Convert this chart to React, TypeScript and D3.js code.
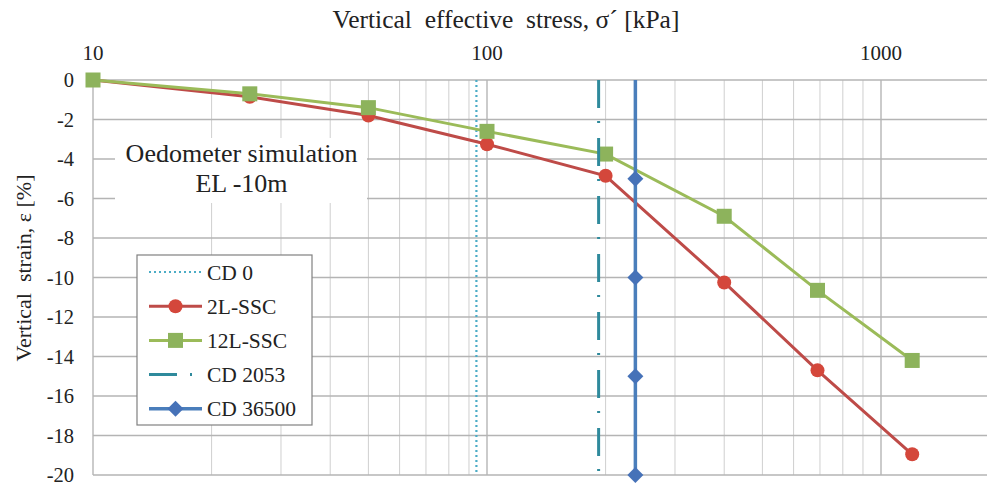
import React from "react";
import * as d3 from "d3";

// Oedometer simulation results, EL -10m
const stress = [10, 25, 50, 100, 200, 400, 690, 1200];
const strain2L = [0, -0.85, -1.8, -3.25, -4.85, -10.25, -14.7, -18.95];
const strain12L = [0, -0.7, -1.4, -2.6, -3.75, -6.9, -10.65, -14.2];

// Current-day preconsolidation references (vertical lines)
const cd0Stress = 94;
const cd2053Stress = 192;
const cd36500Stress = 238;
const cd36500Strain = [0, -5, -10, -15, -20];

const xTickValues = [10, 100, 1000];
const yTickValues = [0, -2, -4, -6, -8, -10, -12, -14, -16, -18, -20];

const legendItems = ["CD 0", "2L-SSC", "12L-SSC", "CD 2053", "CD 36500"];

const W = 987;
const H = 485;

const RED_LINE = "#be4b48";
const RED_MARK = "#d4473b";
const GREEN_LINE = "#9bbb59";
const GREEN_MARK = "#8db35c";
const CYAN = "#4bacc6";
const TEAL = "#2f8a9c";
const BLUE = "#4a7ebb";
const BLUE_MARK = "#4672b8";

const FONT = "Liberation Serif, Tinos, Times New Roman, DejaVu Serif, serif";

export default function App() {
  const x = d3
    .scaleLog()
    .domain([10, 2000])
    .range([93, 93 + 394 * Math.log10(200)]);
  const y = d3.scaleLinear().domain([0, -20]).range([80, 475]);

  const minorTicks: number[] = [];
  for (const dec of [10, 100, 1000]) {
    for (let k = 2; k <= 9; k++) minorTicks.push(dec * k);
  }

  const line = d3
    .line<[number, number]>()
    .x((d) => x(d[0]))
    .y((d) => y(d[1]));

  const red: [number, number][] = stress.map((s, i) => [s, strain2L[i]]);
  const green: [number, number][] = stress.map((s, i) => [s, strain12L[i]]);

  const x0 = x.range()[0];
  const x1 = W + 20;

  const diamond = (cx: number, cy: number, r: number) =>
    `M${cx},${cy - r}L${cx + r},${cy}L${cx},${cy + r}L${cx - r},${cy}Z`;

  const legX = 137;
  const legY = 255;
  const legRow = 34.2;

  const txt = { fontFamily: FONT, whiteSpace: "pre" as const };

  return (
    <svg
      width={W}
      height={H}
      style={{ position: "absolute", left: 0, top: 0, background: "#fff", fontFamily: FONT }}
    >
      <rect x={0} y={0} width={W} height={H} fill="#fff" />

      {/* grid */}
      {minorTicks.map((t) => (
        <line
          key={"mx" + t}
          x1={x(t)}
          x2={x(t)}
          y1={y(0)}
          y2={y(-20)}
          stroke="#cfcfcf"
          strokeWidth={1}
        />
      ))}
      {xTickValues.map((t) => (
        <line
          key={"Mx" + t}
          x1={x(t)}
          x2={x(t)}
          y1={y(0)}
          y2={y(-20)}
          stroke="#a8a8a8"
          strokeWidth={1.2}
        />
      ))}
      {yTickValues.map((t) => (
        <line
          key={"gy" + t}
          x1={x0}
          x2={x1}
          y1={y(t)}
          y2={y(t)}
          stroke="#b4b4b4"
          strokeWidth={1.3}
        />
      ))}

      {/* axis titles and tick labels */}
      <text x={506} y={28} fontSize={25.5} textAnchor="middle" fill="#222" style={txt}>
        Vertical  effective  stress, σ´ [kPa]
      </text>
      {xTickValues.map((t) => (
        <text
          key={"xt" + t}
          x={x(t)}
          y={60}
          fontSize={21}
          textAnchor="middle"
          fill="#222"
          style={txt}
        >
          {t}
        </text>
      ))}
      {yTickValues.map((t) => (
        <text
          key={"yt" + t}
          x={74}
          y={y(t) + 7}
          fontSize={20.5}
          textAnchor="end"
          fill="#222"
          style={txt}
        >
          {t === 0 ? "0" : "-" + Math.abs(t)}
        </text>
      ))}
      <text
        transform={`translate(31,268) rotate(-90)`}
        fontSize={22}
        textAnchor="middle"
        fill="#222"
        style={txt}
      >
        Vertical  strain, ε [%]
      </text>

      {/* annotation box */}
      <rect x={115} y={138} width={252} height={65} fill="#fff" />
      <text x={241.5} y={162} fontSize={26} textAnchor="middle" fill="#222" style={txt}>
        Oedometer simulation
      </text>
      <text x={241.5} y={192} fontSize={26} textAnchor="middle" fill="#222" style={txt}>
        EL -10m
      </text>

      {/* CD 0 */}
      <line
        x1={x(cd0Stress)}
        x2={x(cd0Stress)}
        y1={y(0)}
        y2={y(-20)}
        stroke={CYAN}
        strokeWidth={2.2}
        strokeDasharray="2 3"
      />

      {/* 2L-SSC */}
      <path d={line(red) ?? ""} fill="none" stroke={RED_LINE} strokeWidth={3} />
      {red.map((d, i) => (
        <circle key={"r" + i} cx={x(d[0])} cy={y(d[1])} r={7} fill={RED_MARK} />
      ))}

      {/* 12L-SSC */}
      <path
        d={line(green) ?? ""}
        fill="none"
        stroke={GREEN_LINE}
        strokeWidth={3}
      />
      {green.map((d, i) => (
        <rect
          key={"g" + i}
          x={x(d[0]) - 7.5}
          y={y(d[1]) - 7.5}
          width={15}
          height={15}
          fill={GREEN_MARK}
        />
      ))}

      {/* CD 2053 */}
      <line
        x1={x(cd2053Stress)}
        x2={x(cd2053Stress)}
        y1={y(0)}
        y2={y(-20)}
        stroke={TEAL}
        strokeWidth={3}
        strokeDasharray="28 13 2 15"
      />

      {/* CD 36500 */}
      <line
        x1={x(cd36500Stress)}
        x2={x(cd36500Stress)}
        y1={y(d3.max(cd36500Strain) as number)}
        y2={y(d3.min(cd36500Strain) as number)}
        stroke={BLUE}
        strokeWidth={3.5}
      />
      {cd36500Strain
        .filter((v) => v !== 0)
        .map((v) => (
          <path
            key={"b" + v}
            d={diamond(x(cd36500Stress), y(v), 8)}
            fill={BLUE_MARK}
          />
        ))}

      {/* legend */}
      <rect
        x={legX}
        y={legY}
        width={175}
        height={170}
        fill="#fff"
        stroke="#808080"
        strokeWidth={1.2}
      />
      {legendItems.map((name, i) => {
        const cy = legY + 17 + i * legRow;
        const lx1 = 149;
        const lx2 = 202;
        const mx = (lx1 + lx2) / 2;
        let sym: React.ReactNode = null;
        if (i === 0) {
          sym = (
            <line
              x1={lx1}
              x2={lx2}
              y1={cy}
              y2={cy}
              stroke={CYAN}
              strokeWidth={2.2}
              strokeDasharray="2 3"
            />
          );
        } else if (i === 1) {
          sym = (
            <g>
              <line x1={lx1} x2={lx2} y1={cy} y2={cy} stroke={RED_LINE} strokeWidth={3} />
              <circle cx={mx} cy={cy} r={7} fill={RED_MARK} />
            </g>
          );
        } else if (i === 2) {
          sym = (
            <g>
              <line x1={lx1} x2={lx2} y1={cy} y2={cy} stroke={GREEN_LINE} strokeWidth={3} />
              <rect x={mx - 7.5} y={cy - 7.5} width={15} height={15} fill={GREEN_MARK} />
            </g>
          );
        } else if (i === 3) {
          sym = (
            <line
              x1={lx1}
              x2={lx2}
              y1={cy}
              y2={cy}
              stroke={TEAL}
              strokeWidth={3}
              strokeDasharray="28 13 2 15"
            />
          );
        } else {
          sym = (
            <g>
              <line x1={lx1} x2={lx2} y1={cy} y2={cy} stroke={BLUE} strokeWidth={3.5} />
              <path d={diamond(mx, cy, 8)} fill={BLUE_MARK} />
            </g>
          );
        }
        return (
          <g key={name}>
            {sym}
            <text x={207} y={cy + 7.5} fontSize={21.5} fill="#222" style={txt}>
              {name}
            </text>
          </g>
        );
      })}
    </svg>
  );
}
